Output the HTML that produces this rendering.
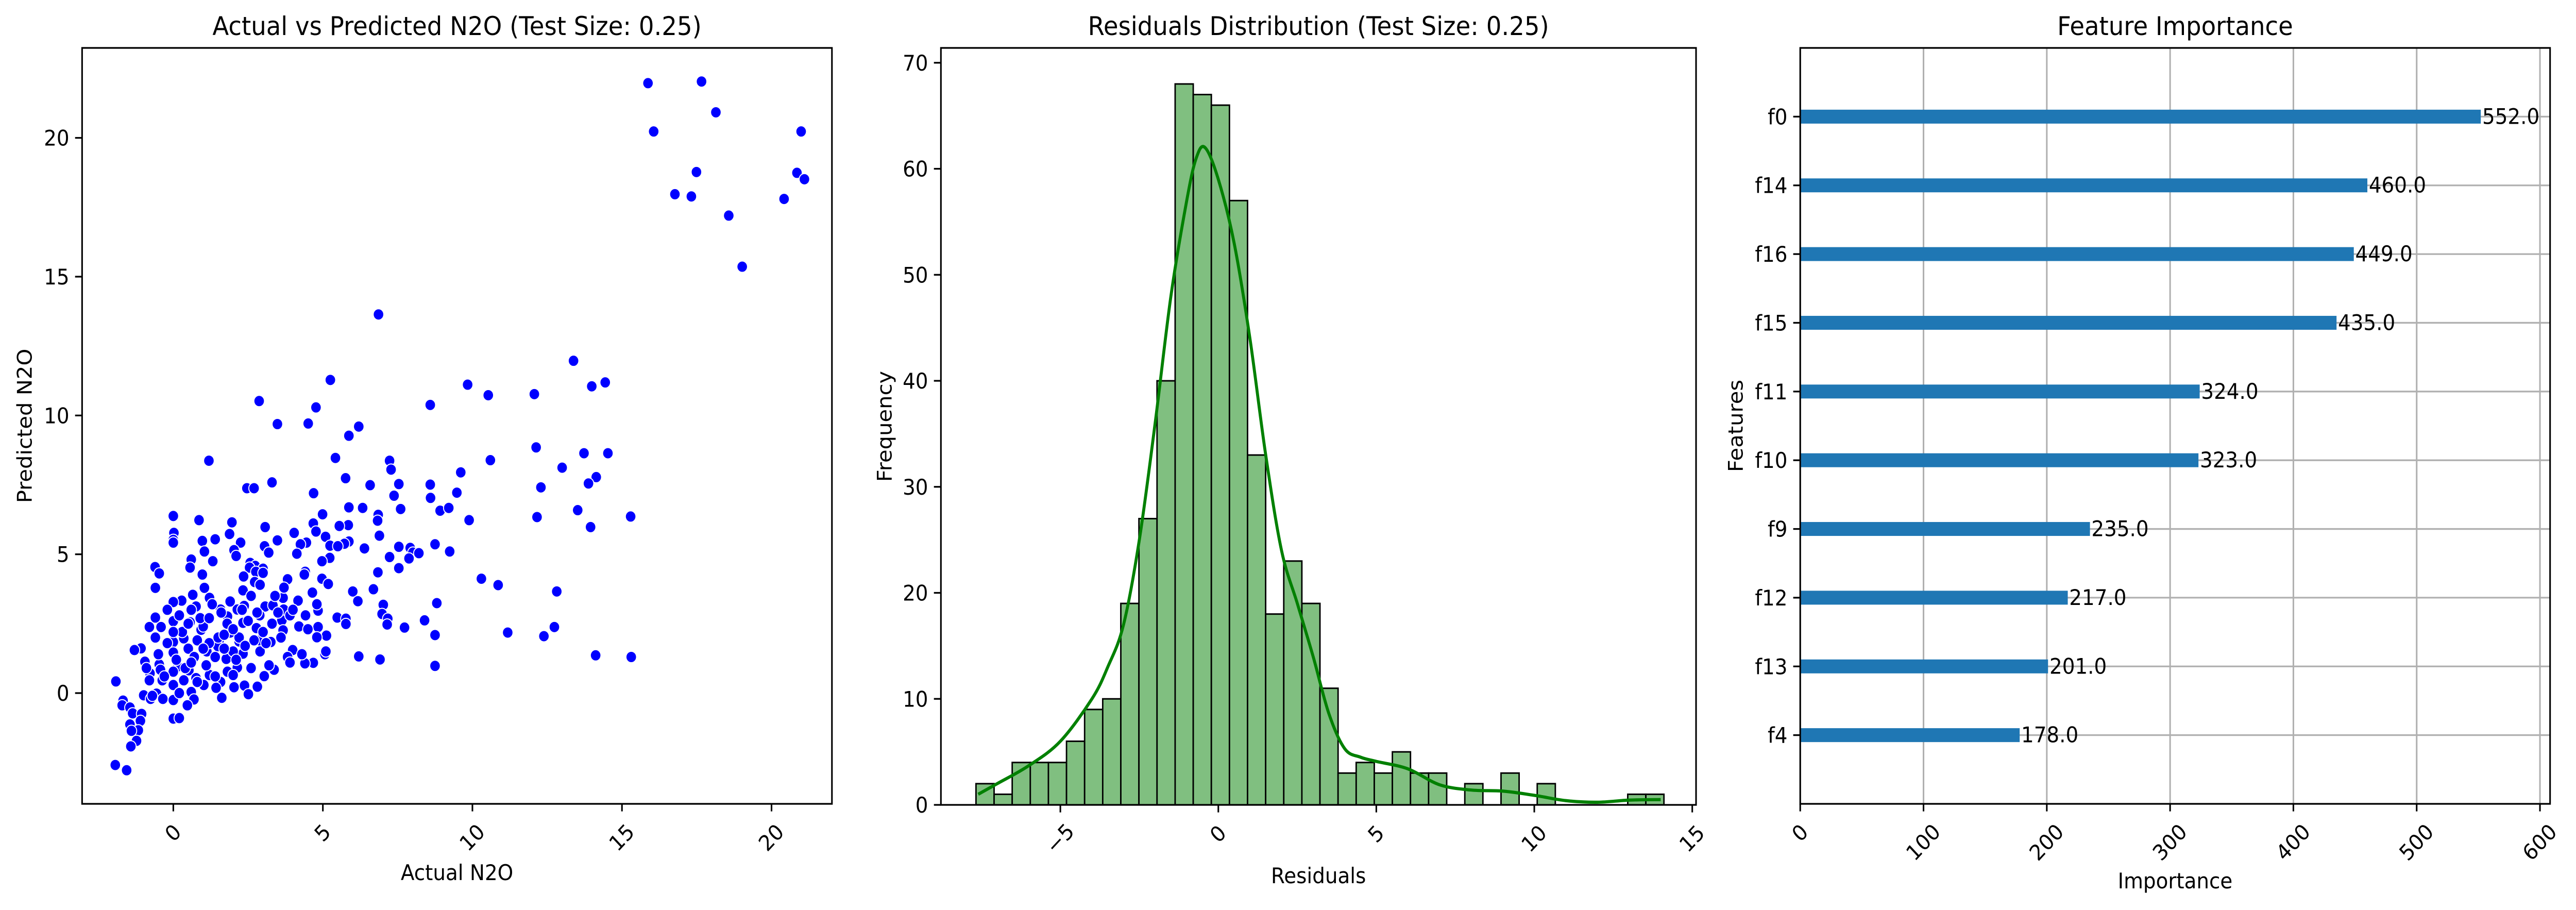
<!DOCTYPE html>
<html><head><meta charset="utf-8">
<style>
html,body{margin:0;padding:0;background:#fff;overflow:hidden;width:100%;height:100%;}
svg{display:block;font-family:"DejaVu Sans","Liberation Sans",sans-serif;overflow:hidden;width:100vw;height:100vh;}
</style></head>
<body>
<svg id="fig" viewBox="0 0 5366 1766" preserveAspectRatio="none" xmlns="http://www.w3.org/2000/svg">
<rect width="5366" height="1766" fill="#fff"/>
</svg>
<script>
// ---------- Chart 1 data: scatter ----------
const actualN2O = [15.87,17.66,16.06,18.14,20.99,17.49,16.77,17.32,20.85,21.1,20.42,18.57,19.02,6.86,13.38,13.99,14.44,9.84,10.53,12.07,5.25,2.87,4.77,8.59,3.48,4.51,6.2,5.87,12.13,13.73,14.53,1.19,5.42,7.23,10.6,7.28,13.0,9.61,14.14,13.88,5.76,3.3,7.54,8.59,6.58,12.29,2.46,2.7,4.69,9.48,7.38,8.6,5.87,7.6,8.92,9.21,13.52,6.33,6.85,6.83,9.89,12.16,15.29,0,0.86,1.96,4.99,4.68,3.07,13.95,5.85,5.55,4.77,0.02,4.04,1.88,6.89,5.09,0,0.97,1.4,3.48,0,2.25,4.45,5.87,4.25,5.24,5.72,7.54,8.75,7.92,5.5,3.05,6.39,2.03,1.04,9.24,4.13,8.01,8.21,3.19,5.23,7.23,7.88,2.1,0.6,4.97,1.32,2.57,2.74,-0.61,0.56,7.54,2.55,3.0,2.76,6.84,4.41,-0.47,0.97,2.35,3.0,4.38,10.3,3.82,4.97,2.72,10.86,5.18,-0.6,1.04,2.33,6.69,12.82,6.0,4.65,0.65,1.21,3.67,4.17,0.28,6.17,0,8.81,7.02,2.37,0.76,3.07,3.33,4.84,1.58,3.69,2.14,2.89,6.98,5.48,5.77,-0.6,1.81,4.42,7.17,3.63,0,0.56,8.4,2.33,5.77,7.15,-0.8,7.73,4.84,2.78,-0.41,0.93,3.67,1.9,11.18,8.75,12.39,5.12,12.74,4.8,0.35,1.53,2.89,0,2.2,3.26,-1.08,-1.3,1.49,3.99,0,1.12,2.33,14.12,15.31,6.2,5.07,6.91,3.82,1.77,-0.95,0.6,4.68,4.4,3.2,8.75,-0.47,0.15,1.12,2.14,3.37,-0.43,1.81,0,0.52,-0.78,1.21,2.0,3.04,0.76,0.35,-0.37,-0.8,-1.92,1.58,0,1.02,2.38,2.81,2.03,1.43,0.6,-0.56,2.51,0.2,-0.99,1.62,-0.35,-0.76,0,-1.68,0.69,-1.71,0.47,-1.45,-1.36,-1.06,0,0.2,-1.1,-1.45,-1.17,-1.4,-1.23,-1.42,-1.94,-1.56,0.3,0.5,0.8,1.0,1.2,1.5,1.8,2.0,2.2,2.5,2.7,3.0,3.3,3.6,3.9,4.2,0.1,0.4,0.7,1.1,1.4,1.7,2.1,2.4,2.9,3.2,0.2,0.6,0.9,1.3,1.6,1.9,2.3,2.6,2.9,3.4,3.7,4.0,-0.2,-0.5,-0.3,-0.6,0.0,0.8,1.4,2.6,3.1,-0.9,-0.7,0.5,1.7,2.8,1.0,0.2,-0.2,0.6,1.2,2.0,3.5,4.5,4.8,5.1,4.3,3.9];
const predictedN2O = [21.97,22.03,20.23,20.92,20.23,18.77,17.97,17.89,18.74,18.51,17.8,17.2,15.36,13.64,11.97,11.05,11.19,11.11,10.73,10.77,11.28,10.52,10.29,10.38,9.69,9.71,9.6,9.27,8.85,8.64,8.64,8.37,8.47,8.37,8.39,8.05,8.12,7.95,7.78,7.55,7.74,7.59,7.53,7.51,7.49,7.41,7.38,7.38,7.2,7.22,7.11,7.03,6.69,6.63,6.57,6.67,6.59,6.67,6.42,6.21,6.23,6.34,6.36,6.38,6.23,6.15,6.44,6.11,5.98,5.98,6.05,6.02,5.82,5.77,5.77,5.73,5.67,5.63,5.52,5.48,5.54,5.5,5.42,5.42,5.42,5.46,5.36,5.31,5.38,5.27,5.36,5.23,5.29,5.29,5.21,5.15,5.1,5.1,5.02,5.06,5.04,5.06,4.87,4.9,4.85,4.94,4.81,4.75,4.75,4.69,4.58,4.54,4.52,4.5,4.52,4.48,4.37,4.35,4.37,4.31,4.27,4.2,4.33,4.27,4.12,4.1,4.12,4.0,3.89,3.93,3.79,3.79,3.7,3.74,3.66,3.66,3.62,3.54,3.43,3.43,3.33,3.33,3.31,3.28,3.24,3.18,3.14,3.12,3.12,3.16,2.97,3.01,3.01,3.01,2.8,2.85,2.72,2.68,2.72,2.76,2.8,2.68,2.62,2.59,2.55,2.62,2.53,2.49,2.47,2.38,2.36,2.38,2.34,2.38,2.28,2.26,2.18,2.18,2.09,2.05,2.07,2.38,2.01,1.97,1.9,1.9,1.84,1.86,1.84,1.61,1.55,1.69,1.55,1.46,1.5,1.42,1.36,1.3,1.32,1.4,1.21,1.3,1.23,1.13,1.15,1.09,1.07,1.03,0.98,1.03,0.96,0.96,0.92,0.84,0.84,0.77,0.77,0.82,0.71,0.65,0.65,0.61,0.54,0.46,0.46,0.46,0.42,0.4,0.29,0.29,0.27,0.23,0.21,0.19,0.04,-0.02,-0.04,-0.04,-0.08,-0.17,-0.21,-0.21,-0.25,-0.27,-0.23,-0.44,-0.44,-0.52,-0.73,-0.75,-0.92,-0.9,-1.0,-1.13,-1.34,-1.36,-1.72,-1.92,-2.59,-2.78,2.2,1.6,1.9,2.4,1.8,2.0,2.5,1.5,2.0,2.6,1.9,2.2,2.5,2.0,2.8,2.4,1.2,0.9,1.3,1.0,1.3,1.6,1.2,1.7,1.5,1.0,2.8,3.0,2.7,3.2,2.9,3.3,3.0,3.5,3.9,3.5,3.8,3.0,1.8,1.4,0.6,2.0,2.2,0.4,0.6,0.9,1.8,0.9,-0.1,2.5,2.1,2.9,1.6,0.0,3.0,1.1,2.7,2.3,2.9,2.3,3.2,1.5,1.4,1.1];
const scatterXTicks = [0,5,10,15,20];
const scatterYTicks = [0,5,10,15,20];

// ---------- Chart 2 data: histogram + KDE ----------
const histStart = -7.67;
const histBinWidth = 0.573;
const histCounts = [2,1,4,4,4,6,9,10,19,27,40,68,67,66,57,33,18,23,19,11,3,4,3,5,3,3,0,2,0,3,0,2,0,0,0,0,1,1];
const kdeX = [-7.6,-7,-6,-5,-4,-3.5,-3,-2.5,-2,-1.5,-1,-0.7,-0.42,0,0.5,1,1.5,2,2.5,3,3.5,4,4.5,5,6,7,8,9,10,11,12,13,14];
const kdeY = [1,2,3.7,6,10,13,17,25,36,48,57,61,62,59,53,44,33,24,19,14,8.6,5.3,4.5,4.1,3.4,1.9,1.4,1.3,0.9,0.4,0.25,0.45,0.5];
const histXTicks = [-5,0,5,10,15];
const histXLabels = ["\u22125","0","5","10","15"];
const histYTicks = [0,10,20,30,40,50,60,70];

// ---------- Chart 3 data: feature importance ----------
const features = ["f4","f13","f12","f9","f10","f11","f15","f16","f14","f0"];
const importance = [178,201,217,235,323,324,435,449,460,552];
const impXTicks = [0,100,200,300,400,500,600];

const svg = document.getElementById('fig');
const NS = 'http://www.w3.org/2000/svg';
function el(tag, attrs, parent){
  const e = document.createElementNS(NS, tag);
  for (const k in attrs) e.setAttribute(k, attrs[k]);
  (parent||svg).appendChild(e);
  return e;
}
const FS = 41.7, TFS = 50, TICK = 14.6, LW = 3.3;

function rotLabel(g, x, yTop, txt, name){
  const w = txt.length * FS * 0.62, h = FS * 0.75;
  const bh = (w + h) * 0.7071;
  const cy = yTop + bh/2;
  const t = el('text', {x:x, y:cy + h/2 - 2, 'font-size':FS, 'text-anchor':'middle', transform:`rotate(-45 ${x} ${cy})`}, g);
  t.textContent = txt;
  
  
}

function frame(g, L, R, T, B){
  const r = el('rect', {x:L, y:T, width:R-L, height:B-T, fill:'none', stroke:'#000', 'stroke-width':LW}, g);
  
  
}
function title(g, x, txt){
  const t = el('text', {x:x, y:68, 'font-size':TFS, 'text-anchor':'middle'}, g);
  t.textContent = txt;
  
  
}

// ===== Chart 1 =====
(function(){
  const L=171,R=1733,T=93,B=1560;
  const xmin=-3.05,xmax=22.02,ymin=-3.99,ymax=23.24;
  const sx = v => L + (v-xmin)/(xmax-xmin)*(R-L);
  const sy = v => B - (v-ymin)/(ymax-ymin)*(B-T);
  const g = el('g', {});
  
  
  title(g, (L+R)/2, 'Actual vs Predicted N2O (Test Size: 0.25)');
  const pg = el('g', {}, g);
  
  
  for (let i=0;i<actualN2O.length;i++){
    const c = el('circle', {cx:sx(actualN2O[i]), cy:sy(predictedN2O[i]), r:11, fill:'#0000ff', stroke:'#fff', 'stroke-width':2}, pg);
    
    
  }
  frame(g,L,R,T,B);
  scatterXTicks.forEach(v=>{
    const x=sx(v);
    const tk = el('line',{x1:x,x2:x,y1:B,y2:B+TICK,stroke:'#000','stroke-width':LW},g);
    
    
    rotLabel(g, x, B+TICK+22, String(v), 'x-tick-label');
  });
  scatterYTicks.forEach(v=>{
    const y=sy(v);
    const tk = el('line',{x1:L-TICK,x2:L,y1:y,y2:y,stroke:'#000','stroke-width':LW},g);
    
    
    const t = el('text',{x:L-TICK-12,y:y+15,'font-size':FS,'text-anchor':'end'},g);
    t.textContent=String(v);
    
    
  });
  const xl = el('text',{x:(L+R)/2,y:1708,'font-size':FS,'text-anchor':'middle'},g);
  xl.textContent='Actual N2O';
  
  
  const yl = el('text',{x:0,y:0,'font-size':FS,'text-anchor':'middle',transform:`translate(66 ${(T+B)/2}) rotate(-90)`},g);
  yl.textContent='Predicted N2O';
  
  
})();

// ===== Chart 2 =====
(function(){
  const L=1960,R=3533,T=93,B=1562;
  const xmin=-8.78,xmax=15.12,ymin=0,ymax=71.4;
  const sx = v => L + (v-xmin)/(xmax-xmin)*(R-L);
  const sy = v => B - (v-ymin)/(ymax-ymin)*(B-T);
  const g = el('g', {});
  
  
  title(g, (L+R)/2, 'Residuals Distribution (Test Size: 0.25)');
  const bg = el('g', {}, g);
  
  
  histCounts.forEach((c,i)=>{
    if (c<=0) return;
    const x0=sx(histStart+i*histBinWidth), x1=sx(histStart+(i+1)*histBinWidth);
    const r = el('rect',{x:x0,y:sy(c),width:x1-x0,height:sy(0)-sy(c),fill:'#80bf80',stroke:'#000','stroke-width':3},bg);
    
    
  });
  const pts = kdeX.map((v,i)=>[sx(v), sy(kdeY[i])]);
  let d = `M${pts[0][0]},${pts[0][1]}`;
  for (let i=0;i<pts.length-1;i++){
    const p0=pts[Math.max(0,i-1)],p1=pts[i],p2=pts[i+1],p3=pts[Math.min(pts.length-1,i+2)];
    const c1=[p1[0]+(p2[0]-p0[0])/6, p1[1]+(p2[1]-p0[1])/6];
    const c2=[p2[0]-(p3[0]-p1[0])/6, p2[1]-(p3[1]-p1[1])/6];
    d += ` C${c1[0]},${c1[1]} ${c2[0]},${c2[1]} ${p2[0]},${p2[1]}`;
  }
  const kde = el('path',{d:d,fill:'none',stroke:'#008000','stroke-width':6.2,'stroke-linejoin':'round'},g);
  
  
  frame(g,L,R,T,B);
  histXTicks.forEach((v,i)=>{
    const x=sx(v);
    const tk = el('line',{x1:x,x2:x,y1:B,y2:B+TICK,stroke:'#000','stroke-width':LW},g);
    
    
    rotLabel(g, x, B+TICK+22, histXLabels[i], 'x-tick-label');
  });
  histYTicks.forEach(v=>{
    const y=sy(v);
    const tk = el('line',{x1:L-TICK,x2:L,y1:y,y2:y,stroke:'#000','stroke-width':LW},g);
    
    
    const t = el('text',{x:L-TICK-12,y:y+15,'font-size':FS,'text-anchor':'end'},g);
    t.textContent=String(v);
    
    
  });
  const xl = el('text',{x:(L+R)/2,y:1714,'font-size':FS,'text-anchor':'middle'},g);
  xl.textContent='Residuals';
  
  
  const yl = el('text',{x:0,y:0,'font-size':FS,'text-anchor':'middle',transform:`translate(1857 ${(T+B)/2}) rotate(-90)`},g);
  yl.textContent='Frequency';
  
  
})();

// ===== Chart 3 =====
(function(){
  const L=3750,R=5312,T=93,B=1560;
  const xmin=0,xmax=608.2,ymin=-1,ymax=10;
  const sx = v => L + (v-xmin)/(xmax-xmin)*(R-L);
  const sy = v => B - (v-ymin)/(ymax-ymin)*(B-T);
  const g = el('g', {});
  
  
  title(g, (L+R)/2, 'Feature Importance');
  const gg = el('g', {}, g);
  
  
  impXTicks.forEach(v=>{
    const gl = el('line',{x1:sx(v),x2:sx(v),y1:T,y2:B,stroke:'#b0b0b0','stroke-width':LW},gg);
    
    
  });
  const bg = el('g', {}, g);
  
  
  features.forEach((f,i)=>{
    const y=sy(i);
    const r = el('rect',{x:sx(0),y:y-13.5,width:sx(importance[i])-sx(0),height:27,fill:'#1f77b4'},bg);
    
    
  });
  features.forEach((f,i)=>{
    const y=sy(i);
    const gl = el('line',{x1:L,x2:R,y1:y,y2:y,stroke:'#b0b0b0','stroke-width':LW},gg);
    
    
    const vt = el('text',{x:sx(importance[i])+3,y:y+14,'font-size':FS},g);
    vt.textContent = importance[i].toFixed(1);
    
    
    const tk = el('line',{x1:L-TICK,x2:L,y1:y,y2:y,stroke:'#000','stroke-width':LW},g);
    
    
    const t = el('text',{x:L-TICK-12,y:y+15,'font-size':FS,'text-anchor':'end'},g);
    t.textContent=f;
    
    
  });
  frame(g,L,R,T,B);
  impXTicks.forEach(v=>{
    const x=sx(v);
    const tk = el('line',{x1:x,x2:x,y1:B,y2:B+TICK,stroke:'#000','stroke-width':LW},g);
    
    
    rotLabel(g, x, B+TICK+22, String(v), 'x-tick-label');
  });
  const xl = el('text',{x:(L+R)/2,y:1724,'font-size':FS,'text-anchor':'middle'},g);
  xl.textContent='Importance';
  
  
  const yl = el('text',{x:0,y:0,'font-size':FS,'text-anchor':'middle',transform:`translate(3630 ${(T+B)/2}) rotate(-90)`},g);
  yl.textContent='Features';
  
  
})();
</script>
</body></html>
